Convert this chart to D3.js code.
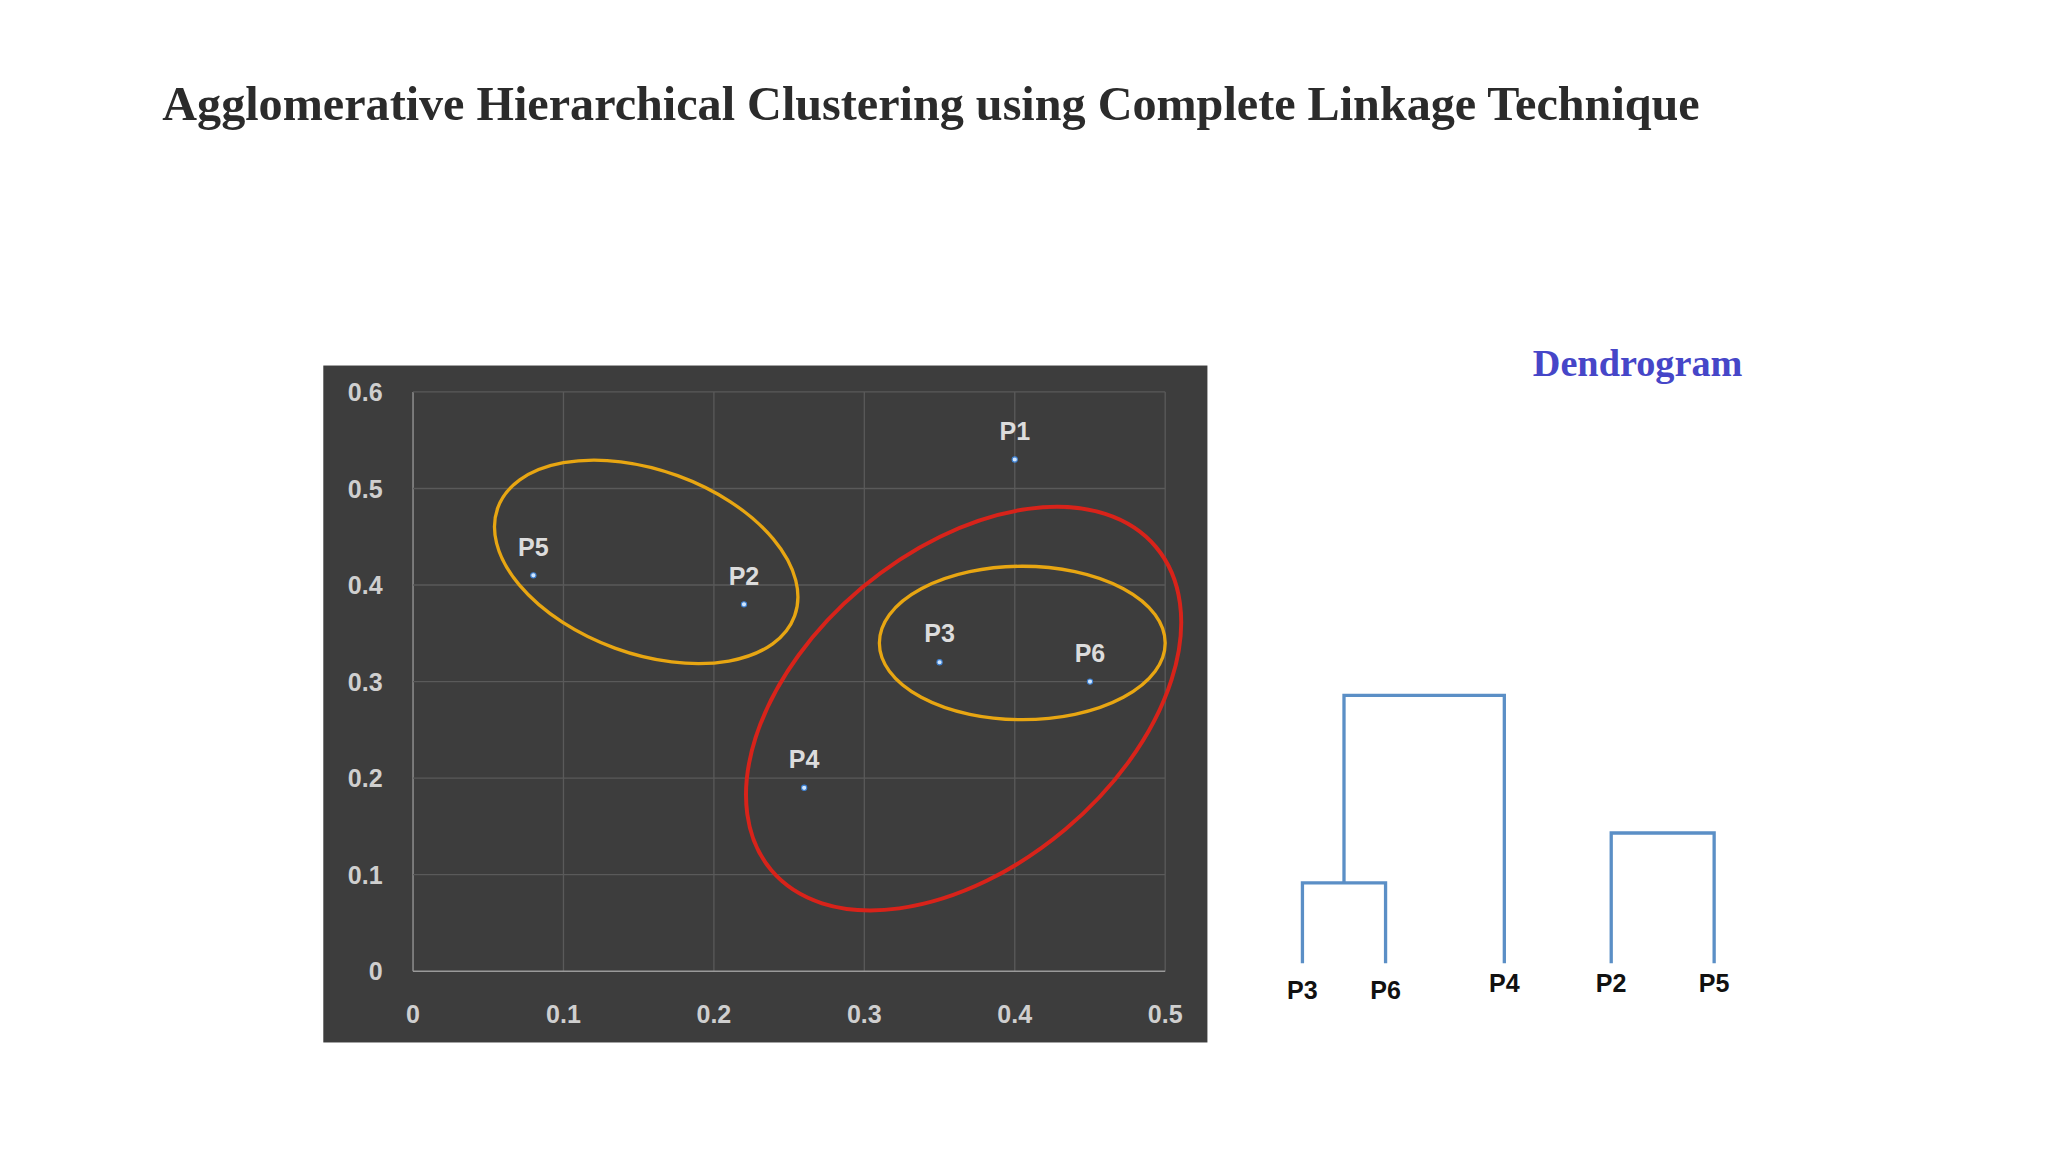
<!DOCTYPE html>
<html><head><meta charset="utf-8">
<script src="https://cdn.jsdelivr.net/npm/d3@7"></script>
<style>body{margin:0;background:#fff}</style>
</head><body><div id="chart"></div>
<script>
// points
let pointNames = ["P1", "P2", "P3", "P4", "P5", "P6"];
let pointX = [0.40, 0.22, 0.35, 0.26, 0.08, 0.45];
let pointY = [0.53, 0.38, 0.32, 0.19, 0.41, 0.30];
let xTicks = [0, 0.1, 0.2, 0.3, 0.4, 0.5];
let yTicks = [0, 0.1, 0.2, 0.3, 0.4, 0.5, 0.6];

// cluster rings (center in data units, radii in x-data units, angle in deg)
let ringCx = [0.155, 0.405, 0.366];
let ringCy = [0.424, 0.340, 0.272];
let ringRx = [0.105, 0.095, 0.167];
let ringRy = [0.061, 0.051, 0.105];
let ringAngle = [20, 0, -40];
let ringColour = ["#e8a612", "#e8a612", "#d8231a"];

// dendrogram
let leaves = ["P3", "P6", "P4", "P2", "P5"];
let leafDrop = [5, 5, 0, 0, 0];
// merges: [left, right, height]
let merges = [["P3", "P6", 0.10], ["P3P6", "P4", 0.333], ["P2", "P5", 0.162]];

// work in a 1552x873 frame, scaled to the window
let width = 1552, height = 873;
let svg = d3.select("#chart").append("svg")
    .attr("width", 2048).attr("height", 1152)
    .attr("viewBox", `0 0 ${width} ${height}`);

svg.append("text")
    .attr("x", 123).attr("y", 91)
    .attr("font-family", "Liberation Serif").attr("font-weight", "bold")
    .attr("font-size", 36.5).attr("fill", "#2b2b2b")
    .text("Agglomerative Hierarchical Clustering using Complete Linkage Technique");

// scatter panel
svg.append("rect").attr("x", 245).attr("y", 277).attr("width", 670).attr("height", 513)
    .attr("fill", "#3d3d3d");

let x = d3.scaleLinear().domain([0, 0.5]).range([313, 883]);
let y = d3.scaleLinear().domain([0, 0.6]).range([736, 297]);
let g = svg.append("g").attr("font-family", "Liberation Sans").attr("font-weight", "bold");

g.selectAll(".vg").data(xTicks).join("line")
    .attr("x1", d => x(d)).attr("x2", d => x(d)).attr("y1", y(0)).attr("y2", y(0.6))
    .attr("stroke", d => d === 0 ? "#9a9a9a" : "#5a5a5a").attr("stroke-width", 1);
g.selectAll(".hg").data(yTicks).join("line")
    .attr("x1", x(0)).attr("x2", x(0.5)).attr("y1", d => y(d)).attr("y2", d => y(d))
    .attr("stroke", d => d === 0 ? "#9a9a9a" : "#5a5a5a").attr("stroke-width", 1);

g.selectAll(".xt").data(xTicks).join("text")
    .attr("x", d => x(d)).attr("y", 775).attr("text-anchor", "middle")
    .attr("font-size", 19).attr("fill", "#cfcfcf").text(d => d === 0 ? "0" : d3.format(".1f")(d));
g.selectAll(".yt").data(yTicks).join("text")
    .attr("x", 290).attr("y", d => y(d) + 7).attr("text-anchor", "end")
    .attr("font-size", 19).attr("fill", "#cfcfcf").text(d => d === 0 ? "0" : d3.format(".1f")(d));

let xUnit = x(1) - x(0);
g.selectAll(".ring").data(ringCx).join("ellipse")
    .attr("cx", 0).attr("cy", 0)
    .attr("rx", (d, i) => ringRx[i] * xUnit).attr("ry", (d, i) => ringRy[i] * xUnit)
    .attr("transform", (d, i) => `translate(${x(d)},${y(ringCy[i])}) rotate(${ringAngle[i]})`)
    .attr("fill", "none").attr("stroke", (d, i) => ringColour[i])
    .attr("stroke-width", (d, i) => i === 2 ? 3 : 2.5);

g.selectAll(".pt").data(pointNames).join("circle")
    .attr("cx", (d, i) => x(pointX[i])).attr("cy", (d, i) => y(pointY[i]))
    .attr("r", 2).attr("fill", "#cfe6ff").attr("stroke", "#3d7fd0").attr("stroke-width", 0.8);
g.selectAll(".pl").data(pointNames).join("text")
    .attr("x", (d, i) => x(pointX[i])).attr("y", (d, i) => y(pointY[i]) - 15)
    .attr("text-anchor", "middle").attr("font-size", 19).attr("fill", "#dcdcdc").text(d => d);

// dendrogram
svg.append("text").attr("x", 1241).attr("y", 285).attr("text-anchor", "middle")
    .attr("font-family", "Liberation Serif").attr("font-weight", "bold")
    .attr("font-size", 29).attr("fill", "#4646c8").text("Dendrogram");

let lx = d3.scalePoint().domain(leaves).range([987, 1299]);
let leafPos = {P3: 987, P6: 1050, P4: 1140, P2: 1221, P5: 1299};
let hy = d3.scaleLinear().domain([0, 0.333]).range([730, 527]);
let node = {};
leaves.forEach(l => node[l] = {x: leafPos[l], h: 0});
let dg = svg.append("g");
merges.forEach(([a, b, h]) => {
    let A = node[a], B = node[b];
    dg.append("path")
        .attr("d", `M${A.x},${hy(A.h)}V${hy(h)}H${B.x}V${hy(B.h)}`)
        .attr("fill", "none").attr("stroke", "#5b8fc6").attr("stroke-width", 2.5);
    node[a + b] = {x: (A.x + B.x) / 2, h: h};
});
dg.selectAll("text").data(leaves).join("text")
    .attr("x", d => leafPos[d]).attr("y", (d, i) => 752 + leafDrop[i])
    .attr("text-anchor", "middle").attr("font-family", "Liberation Sans").attr("font-weight", "bold")
    .attr("font-size", 19).attr("fill", "#111").text(d => d);
</script></body></html>
